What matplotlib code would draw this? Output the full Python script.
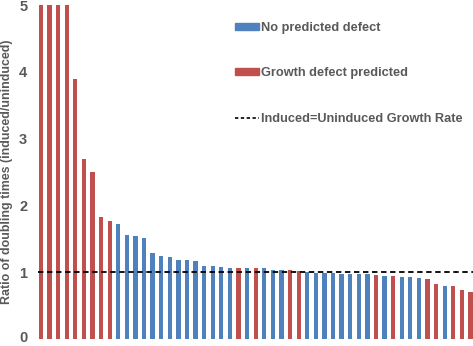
import matplotlib.pyplot as plt
import matplotlib.transforms as mtransforms
from matplotlib.patches import Patch
from matplotlib.lines import Line2D

# ratio of doubling times per strain, sorted high to low
ratios = [5.0, 5.0, 5.0, 5.0, 3.89, 2.70, 2.50, 1.83, 1.76,
          1.72, 1.56, 1.55, 1.52, 1.29, 1.25, 1.23, 1.19, 1.18, 1.17,
          1.10, 1.09, 1.08, 1.07, 1.07, 1.07, 1.06, 1.06, 1.04, 1.03,
          1.03, 1.02, 1.00, 0.99, 0.99, 0.99, 0.98, 0.98, 0.97, 0.97,
          0.96, 0.95, 0.94, 0.93, 0.93, 0.91, 0.90, 0.83, 0.80, 0.80,
          0.73, 0.71]
# True where a growth defect is predicted
defect = [True] * 9 + [False] * 14 + [True, False, True, False, False, False,
          True, True] + [False] * 8 + [True, False, True, False, False, False,
          True, True, False, True, True, True]

blue = "#4F81BD"
red = "#C0504D"
grey = "#595959"

plt.rcParams["font.family"] = "Liberation Sans"
plt.rcParams["font.weight"] = "bold"

fig = plt.figure(figsize=(4.73, 3.46), dpi=100)
ax = fig.add_axes([0.0812, 0.02, 0.9188, 0.9655])

colors = [red if d else blue for d in defect]
ax.bar(range(len(ratios)), ratios, width=0.5, color=colors)
ax.axhline(1, color="black", linestyle=(0, (3, 2)), linewidth=1.3)

ax.set_ylim(0, 5)
ax.set_xlim(-0.3, len(ratios) - 0.7)
ax.set_yticks([0, 1, 2, 3, 4, 5])
ax.set_xticks([])
ax.tick_params(axis="y", length=0, pad=8, labelsize=10.5, labelcolor=grey)
for s in ax.spines.values():
    s.set_visible(False)
ax.set_ylabel("Ratio of doubling times (induced/uninduced)", fontsize=8.9,
              color=grey, fontweight="bold", labelpad=4)

# nudge the "0" label up so it stays inside the figure
zero = ax.get_yticklabels()[0]
zero.set_transform(zero.get_transform() +
                   mtransforms.ScaledTranslation(0, 2 / 72, fig.dpi_scale_trans))

handles = [Patch(color=blue), Patch(color=red),
           Line2D([], [], color="black", linestyle=(0, (2, 1.5)), linewidth=1.2)]
labels = ["No predicted defect", "Growth defect predicted",
          "Induced=Uninduced Growth Rate"]
leg = fig.legend(handles, labels, loc="upper left",
                 bbox_to_anchor=(0.497, 0.937), frameon=False, fontsize=9.2,
                 handlelength=1.9, handleheight=0.5, handletextpad=0.15,
                 labelspacing=2.62, borderpad=0, borderaxespad=0)
for t in leg.get_texts():
    t.set_color(grey)

fig.savefig("out.png", dpi=100)
